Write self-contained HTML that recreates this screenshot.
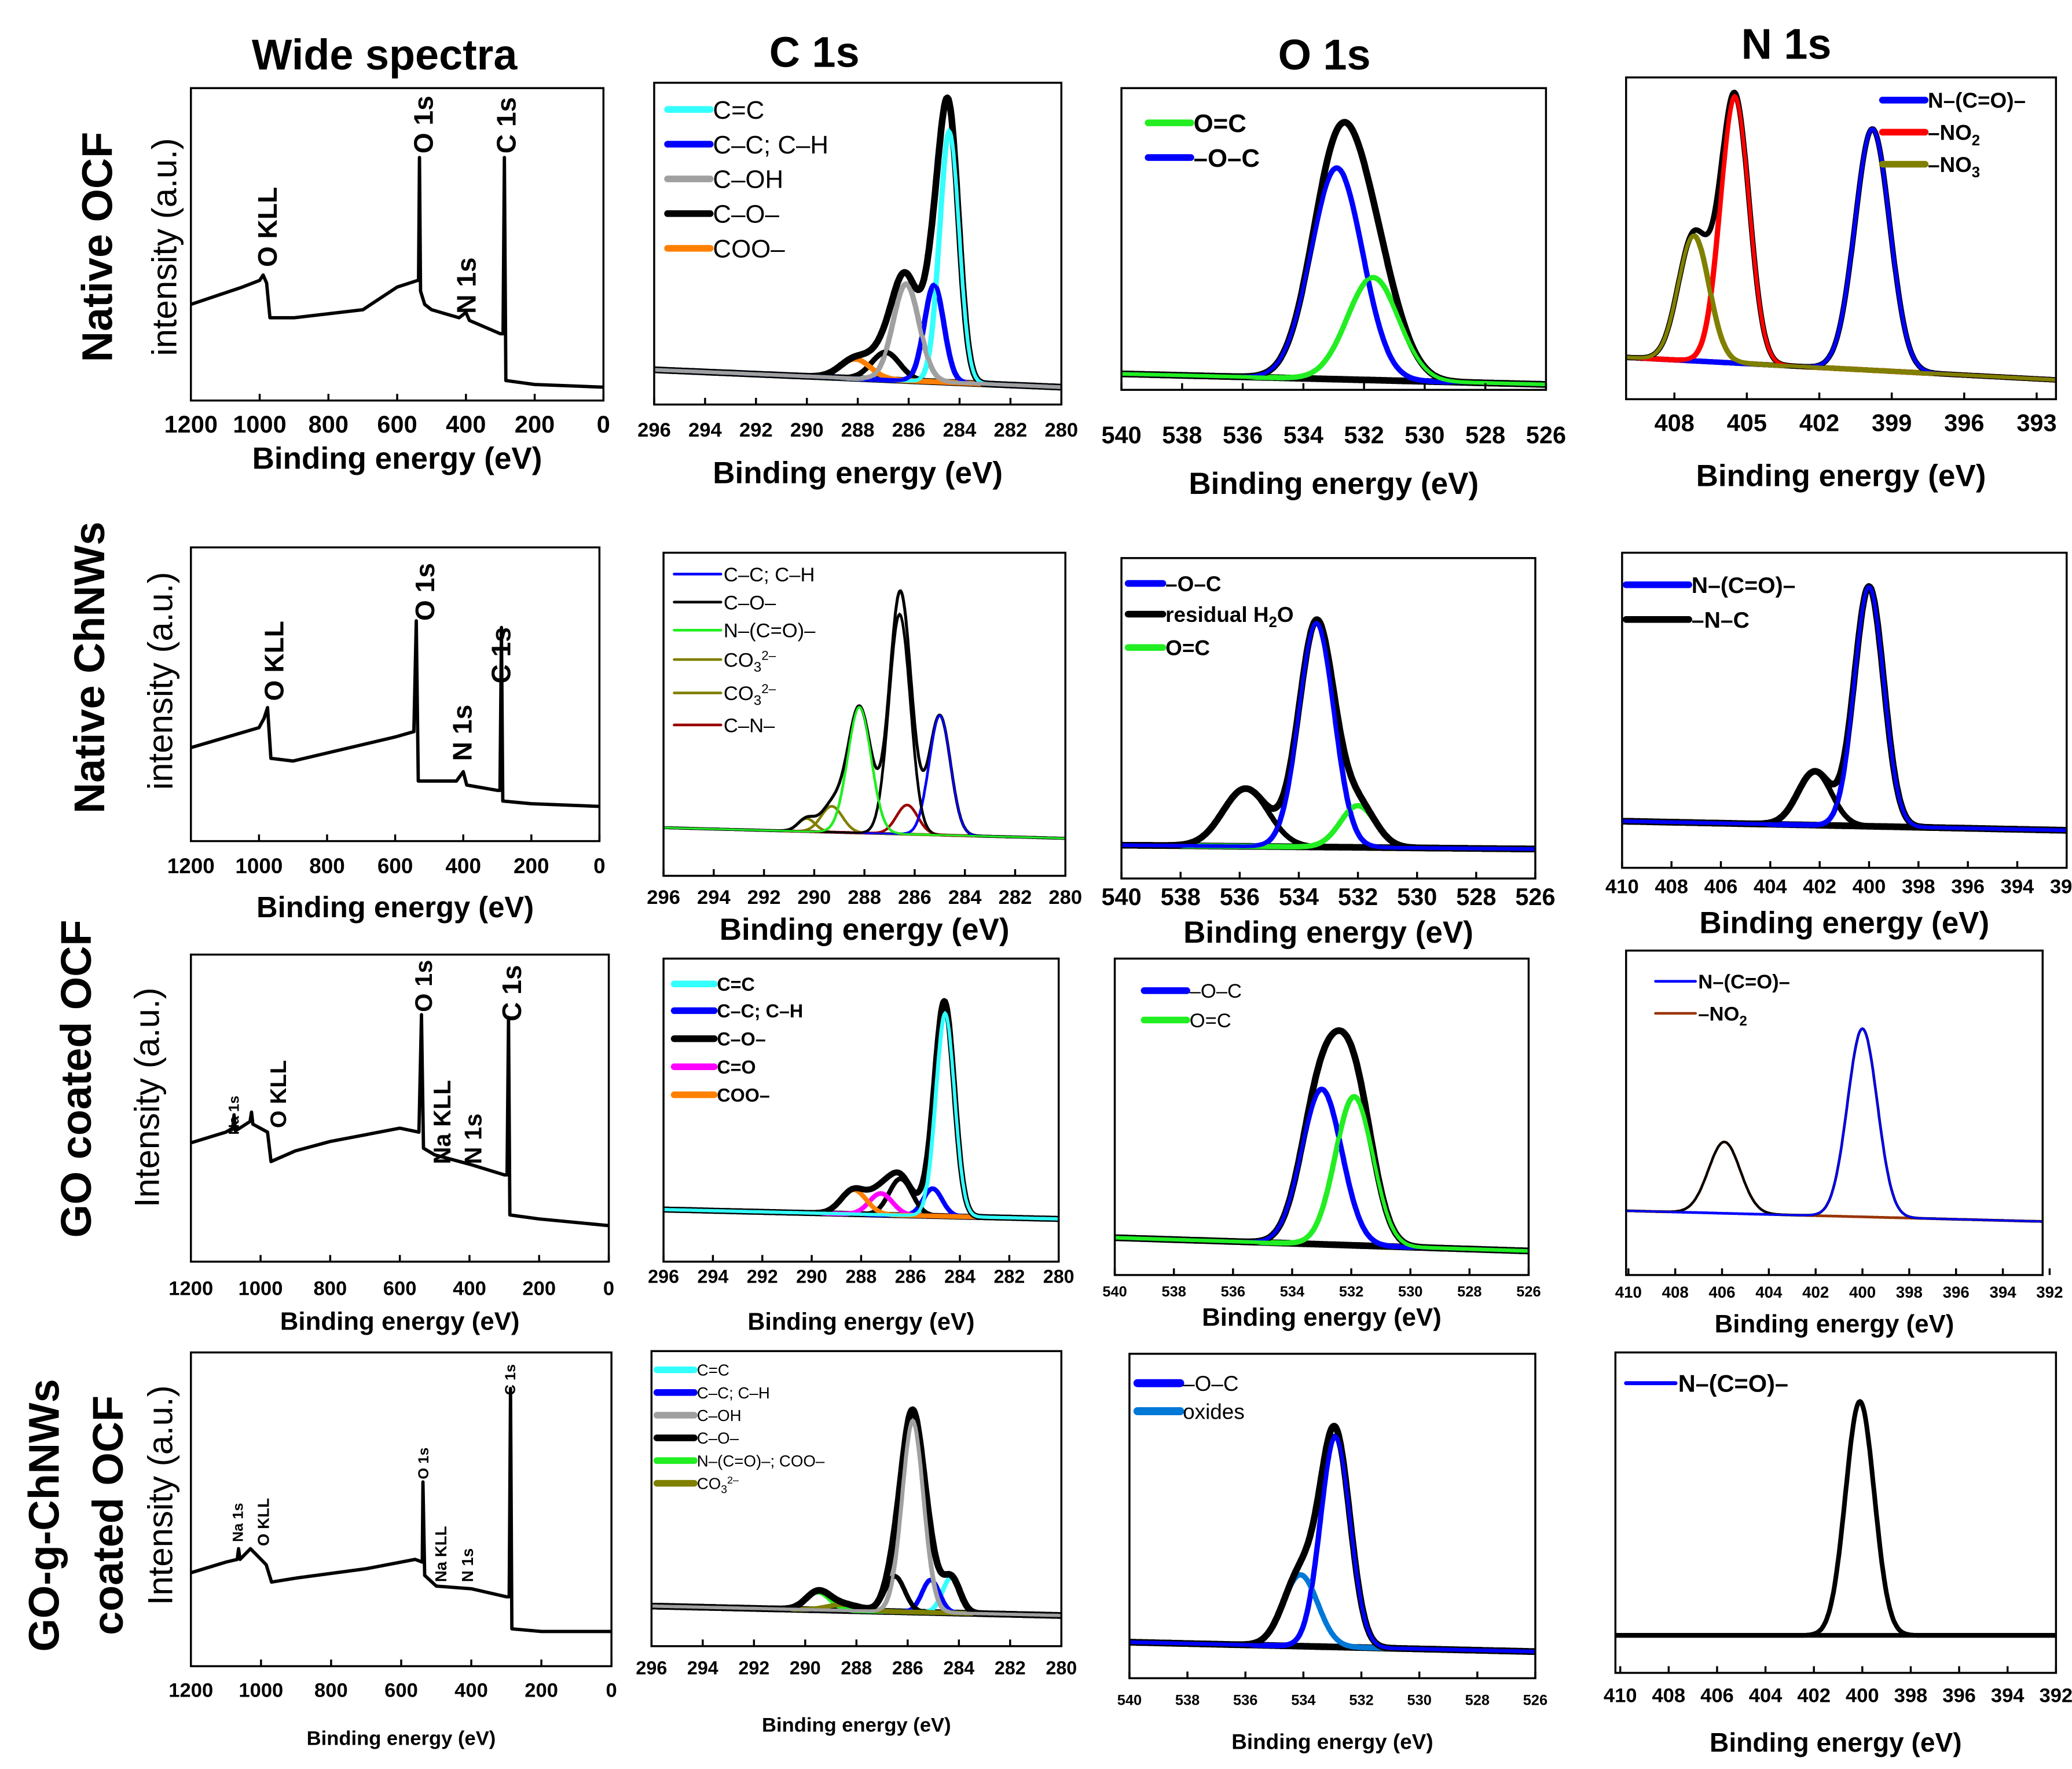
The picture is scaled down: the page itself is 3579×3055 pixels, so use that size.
<!DOCTYPE html>
<html><head><meta charset="utf-8"><style>
html,body{margin:0;padding:0;background:#fff;}
svg{display:block;font-family:"Liberation Sans",sans-serif;}
</style></head><body>
<svg id="fig" width="3579" height="3055" viewBox="0 0 1552 1325" preserveAspectRatio="none" xmlns="http://www.w3.org/2000/svg">
<rect x="0" y="0" width="1552" height="1325" fill="#fff"/>
<g font-weight="bold" fill="#000">
<text x="288" y="52" font-size="32" text-anchor="middle">Wide spectra</text>
<text x="610" y="50" font-size="32" text-anchor="middle">C 1s</text>
<text x="992" y="52" font-size="32" text-anchor="middle">O 1s</text>
<text x="1338" y="44" font-size="32" text-anchor="middle">N 1s</text>
</g>
<g font-weight="bold" fill="#000">
<text transform="translate(84,185) rotate(-90)" font-size="32" text-anchor="middle">Native OCF</text>
<text transform="translate(78,500) rotate(-90)" font-size="32" text-anchor="middle">Native ChNWs</text>
<text transform="translate(68,808) rotate(-90)" font-size="32" text-anchor="middle">GO coated OCF</text>
<text transform="translate(44,1135) rotate(-90)" font-size="32" text-anchor="middle">GO-g-ChNWs</text>
<text transform="translate(92,1135) rotate(-90)" font-size="32" text-anchor="middle">coated OCF</text>
</g>
<g font-size="26" fill="#000">
<text transform="translate(132,185) rotate(-90)" text-anchor="middle">intensity (a.u.)</text>
<text transform="translate(129,510) rotate(-90)" text-anchor="middle">intensity (a.u.)</text>
<text transform="translate(119,822) rotate(-90)" text-anchor="middle">Intensity (a.u.)</text>
<text transform="translate(129,1120) rotate(-90)" text-anchor="middle">Intensity (a.u.)</text>
</g>
<g id="panels"></g>
</svg>
<script>
// ---------- Wide spectra data (BE in eV, intensity in arbitrary counts) ----------
const wide1BE=[1200,1050,1000,990,980,970,900,700,600,540,538,535,532,520,500,420,400,390,300,292,288,284,200,0];
const wide1I=[72,85,90,94,88,62,62,68,85,90,90,182,82,72,68,62,66,60,50,50,182,15,12,10];
const wide2BE=[1200,1000,985,975,965,900,600,545,538,532,420,400,390,300,292,288,284,200,0];
const wide2I=[70,85,92,100,62,60,78,82,165,45,45,52,42,38,38,160,30,28,26];
const wide3BE=[1200,1100,1080,1076,1072,1030,1026,1022,980,970,900,800,600,545,538,532,500,400,300,292,288,284,200,0];
const wide3I=[89,97,100,110,98,105,112,103,97,75,83,90,100,97,185,85,80,73,65,65,183,35,32,27];
const wide4BE=[1200,1100,1068,1064,1060,1030,1000,985,970,900,700,560,540,538,533,500,400,300,292,288,284,200,0];
const wide4I=[70,78,80,88,80,88,80,76,63,66,73,80,78,138,68,60,58,52,52,208,28,26,26];
const wideTicks=[1200,1000,800,600,400,200,0];
const c1sTicks=[296,294,292,290,288,286,284,282,280];
const o1sTicks=[540,538,536,534,532,530,528,526];
const n1sTicks1=[408,405,402,399,396,393];
const n1sTicks=[410,408,406,404,402,400,398,396,394,392];

// ---------- Component fits: centers (eV), amplitudes (fraction of plot height), FWHM (eV) ----------
const r1cC=[284.4,285.0,286.1,286.9,288.1], r1cA=[0.78,0.30,0.30,0.085,0.06], r1cW=[0.9,0.9,1.2,1.3,1.4], r1cBase=[0.108,0.054];
const r1oC=[532.9,531.7], r1oA=[0.70,0.34], r1oW=[2.0,2.0], r1oBase=[0.053,0.018];
const r1nC=[399.8,405.5,407.2], r1nA=[0.75,0.83,0.39], r1nW=[1.7,1.4,1.5], r1nBase=[0.13,0.06];
const r2cC=[285.0,286.6,288.2,289.3,290.3,286.3], r2cA=[0.37,0.68,0.39,0.08,0.04,0.09], r2cW=[1.0,1.0,1.1,1.0,0.8,1.0], r2cBase=[0.149,0.116];
const r2oC=[533.4,535.8,532.0], r2oA=[0.70,0.18,0.13], r2oW=[1.4,1.8,1.4], r2oBase=[0.104,0.092];
const r2nC=[400.0,402.2], r2nA=[0.76,0.17], r2nW=[1.4,1.6], r2nBase=[0.148,0.119];
const r3cC=[284.6,285.1,286.4,287.2,288.3], r3cA=[0.67,0.09,0.12,0.07,0.08], r3cW=[0.9,0.9,1.1,1.1,1.2], r3cBase=[0.172,0.141];
const r3oC=[533.0,531.9], r3oA=[0.49,0.47], r3oW=[1.6,1.5], r3oBase=[0.118,0.076];
const r3nC=[400.0,405.9], r3nA=[0.58,0.22], r3nW=[1.5,1.6], r3nBase=[0.198,0.165];
const r4cC=[284.3,285.1,285.8,286.5,289.5,288.5], r4cA=[0.12,0.11,0.65,0.12,0.06,0.02], r4cW=[0.8,0.8,1.0,0.9,1.1,1.5], r4cBase=[0.136,0.104];
const r4oC=[532.9,534.1], r4oA=[0.65,0.22], r4oW=[1.2,1.4], r4oBase=[0.111,0.082];
const r4nC=[400.1], r4nA=[0.73], r4nW=[1.4], r4nBase=[0.117,0.117];

const NS="http://www.w3.org/2000/svg";
const root=document.getElementById('panels');
function mk(tag,attrs,parent){const e=document.createElementNS(NS,tag);for(const k in attrs)e.setAttribute(k,attrs[k]);(parent||root).appendChild(e);return e;}
function gauss(x,c,a,w){return a*Math.exp(-4*Math.LN2*(x-c)*(x-c)/(w*w));}

const panels=[
 {id:'r1-wide',x0:143,x1:452,y0:66,y1:300,dL:1200,dR:0,yMax:234,ticks:wideTicks,tickY:324,ts:18,xl:'Binding energy (eV)',xlY:351,xs:23,wbe:wide1BE,wi:wide1I,sw:2.5,
  peaks:[['O KLL',200,200,20],['O 1s',317,115,20],['N 1s',349,235,20],['C 1s',379,115,20]]},
 {id:'r1-c1s',x0:490,x1:795,y0:62,y1:303,dL:296,dR:280,yMax:1,ticks:c1sTicks,tickY:327,ts:15,xl:'Binding energy (eV)',xlY:362,xs:23,
  C:r1cC,A:r1cA,Wd:r1cW,base:r1cBase,col:['#33ffff','#0000ff','#a0a0a0','#000','#ff8000'],csw:4,esw:5,
  leg:{x:500,y:[82,108,134,160,186],fs:19,len:32,sw:5,lab:['C=C','C–C; C–H','C–OH','C–O–','COO–']}},
 {id:'r1-o1s',x0:840,x1:1158,y0:66,y1:292,dL:540,dR:526,yMax:1,ticks:o1sTicks,tickY:332,ts:18,xl:'Binding energy (eV)',xlY:370,xs:23,
  C:r1oC,A:r1oA,Wd:r1oW,base:r1oBase,col:['#0000ff','#22ee22'],csw:4,esw:5,
  leg:{x:860,y:[118,92],fs:19,len:32,sw:5,bold:1,lab:['–O–C','O=C']}},
 {id:'r1-n1s',x0:1218,x1:1540,y0:58,y1:299,dL:410,dR:392.2,yMax:1,ticks:n1sTicks1,tickY:323,ts:18,xl:'Binding energy (eV)',xlY:364,xs:23,
  C:r1nC,A:r1nA,Wd:r1nW,base:r1nBase,col:['#0000ff','#ff0000','#808000'],csw:4,esw:4,
  leg:{x:1410,y:[75,99,123],fs:16,len:32,sw:5,bold:1,lab:['N–(C=O)–','–NO|2','–NO|3']}},
 {id:'r2-wide',x0:143,x1:449,y0:410,y1:630,dL:1200,dR:0,yMax:220,ticks:wideTicks,tickY:654,ts:16,xl:'Binding energy (eV)',xlY:687,xs:22,wbe:wide2BE,wi:wide2I,sw:2.5,
  peaks:[['O KLL',205,525,20],['O 1s',318,465,20],['N 1s',346,570,20],['C 1s',375,512,20]]},
 {id:'r2-c1s',x0:497,x1:798,y0:414,y1:656,dL:296,dR:280,yMax:1,ticks:c1sTicks,tickY:677,ts:15,xl:'Binding energy (eV)',xlY:704,xs:23,
  C:r2cC,A:r2cA,Wd:r2cW,base:r2cBase,col:['#0000ff','#000','#22ee22','#808000','#808000','#990000'],csw:2,esw:2.2,
  leg:{x:505,y:[430,451,472,494,519,543],fs:15,len:35,sw:2,lab:['C–C; C–H','C–O–','N–(C=O)–','CO|3|2–','CO|3|2–','C–N–']}},
 {id:'r2-o1s',x0:840,x1:1150,y0:418,y1:658,dL:540,dR:526,yMax:1,ticks:o1sTicks,tickY:678,ts:18,xl:'Binding energy (eV)',xlY:706,xs:23,
  C:r2oC,A:r2oA,Wd:r2oW,base:r2oBase,col:['#0000ff','#000','#22ee22'],csw:4,esw:5,
  leg:{x:845,y:[437,460,485],fs:16,len:26,sw:5,bold:1,lab:['–O–C','residual H|2|O','O=C']}},
 {id:'r2-n1s',x0:1215,x1:1548,y0:414,y1:650,dL:410,dR:392,yMax:1,ticks:n1sTicks,tickY:669,ts:15,xl:'Binding energy (eV)',xlY:699,xs:23,
  C:r2nC,A:r2nA,Wd:r2nW,base:r2nBase,col:['#0000ff','#000'],csw:4,esw:5,
  leg:{x:1218,y:[438,464],fs:17,len:47,sw:5,bold:1,lab:['N–(C=O)–','–N–C']}},
 {id:'r3-wide',x0:143,x1:456,y0:715,y1:945,dL:1200,dR:0,yMax:230,ticks:wideTicks,tickY:970,ts:15,xl:'Binding energy (eV)',xlY:996,xs:19,wbe:wide3BE,wi:wide3I,sw:2.5,
  peaks:[['Na 1s',175,850,11],['O KLL',208,845,17],['O 1s',317,758,18],['Na KLL',331,872,18],['N 1s',354,872,18],['C 1s',383,765,20]]},
 {id:'r3-c1s',x0:497,x1:793,y0:718,y1:945,dL:296,dR:280,yMax:1,ticks:c1sTicks,tickY:961,ts:14,xl:'Binding energy (eV)',xlY:996,xs:18,
  C:r3cC,A:r3cA,Wd:r3cW,base:r3cBase,col:['#33ffff','#0000ff','#000','#ff00ff','#ff8000'],csw:3.5,esw:4.5,
  leg:{x:505,y:[737,757,778,799,820],fs:14,len:30,sw:5,bold:1,lab:['C=C','C–C; C–H','C–O–','C=O','COO–']}},
 {id:'r3-o1s',x0:835,x1:1145,y0:718,y1:955,dL:540,dR:526,yMax:1,ticks:o1sTicks,tickY:971,ts:11,xl:'Binding energy (eV)',xlY:993,xs:19,
  C:r3oC,A:r3oA,Wd:r3oW,base:r3oBase,col:['#0000ff','#22ee22'],csw:4,esw:5,
  leg:{x:857,y:[742,764],fs:15,len:32,sw:5,lab:['–O–C','O=C']}},
 {id:'r3-n1s',x0:1218,x1:1530,y0:712,y1:955,dL:410.1,dR:392.3,yMax:1,ticks:n1sTicks,tickY:972,ts:12,xl:'Binding energy (eV)',xlY:998,xs:19,
  C:r3nC,A:r3nA,Wd:r3nW,base:r3nBase,col:['#0000ff','#993300'],csw:2,esw:1.8,
  leg:{x:1240,y:[735,759],fs:15,len:30,sw:2,bold:1,lab:['N–(C=O)–','–NO|2']}},
 {id:'r4-wide',x0:143,x1:458,y0:1013,y1:1248,dL:1200,dR:0,yMax:235,ticks:wideTicks,tickY:1271,ts:15,xl:'Binding energy (eV)',xlY:1307,xs:15,wbe:wide4BE,wi:wide4I,sw:2.5,
  peaks:[['Na 1s',178,1155,11],['O KLL',197,1158,12],['O 1s',317,1108,11],['Na KLL',330,1185,12],['N 1s',350,1185,12],['C 1s',382,1045,11]]},
 {id:'r4-c1s',x0:488,x1:795,y0:1012,y1:1233,dL:296,dR:280,yMax:1,ticks:c1sTicks,tickY:1254,ts:14,xl:'Binding energy (eV)',xlY:1297,xs:15,
  C:r4cC,A:r4cA,Wd:r4cW,base:r4cBase,col:['#33ffff','#0000ff','#a0a0a0','#000','#22ee22','#808000'],csw:3.5,esw:5,
  leg:{x:492,y:[1026,1043,1060,1077,1094,1111],fs:12,len:28,sw:5,lab:['C=C','C–C; C–H','C–OH','C–O–','N–(C=O)–; COO–','CO|3|2–']}},
 {id:'r4-o1s',x0:846,x1:1150,y0:1014,y1:1257,dL:540,dR:526,yMax:1,ticks:o1sTicks,tickY:1277,ts:11,xl:'Binding energy (eV)',xlY:1310,xs:16,
  C:r4oC,A:r4oA,Wd:r4oW,base:r4oBase,col:['#0000ff','#0078d7'],csw:4,esw:5,
  leg:{x:852,y:[1036,1057],fs:16,len:32,sw:6,lab:['–O–C','oxides']}},
 {id:'r4-n1s',x0:1210,x1:1540,y0:1013,y1:1253,dL:410.2,dR:392,yMax:1,ticks:n1sTicks,tickY:1275,ts:15,xl:'Binding energy (eV)',xlY:1312,xs:20,
  C:r4nC,A:r4nA,Wd:r4nW,base:r4nBase,col:[],csw:4,esw:3.5,envOnly:1,
  leg:{x:1218,y:[1036],fs:18,len:37,sw:3,bold:1,col:['#0000ff'],lab:['N–(C=O)–']}}
];

function addLabel(parent,x,y,label,fs,bold){
  const t=mk('text',{x:x,y:y,'font-size':fs,'font-weight':bold?'bold':'normal'},parent);
  const parts=label.split('|');
  t.appendChild(document.createTextNode(parts[0]));
  if(parts.length>1){
    const s=mk('tspan',{'font-size':fs*0.7,dy:fs*0.25},t);s.textContent=parts[1];
    if(parts.length>2){
      if(parts[1]==='2'&&parts[2]==='O'){const r=mk('tspan',{dy:-fs*0.25},t);r.textContent='O';}
      else{const s2=mk('tspan',{'font-size':fs*0.65,dy:-fs*0.6},t);s2.textContent=parts[2];}
    }
  }
  return t;
}

panels.forEach(p=>{
  const g=mk('g',{});
  
  
  const sx=v=>p.x0+(p.dL-v)/(p.dL-p.dR)*(p.x1-p.x0);
  const sy=v=>p.y1-v/p.yMax*(p.y1-p.y0);
  const cid='clip-'+p.id;
  const cp=mk('clipPath',{id:cid},g);
  mk('rect',{x:p.x0,y:p.y0,width:p.x1-p.x0,height:p.y1-p.y0},cp);
  const plot=mk('g',{'clip-path':'url(#'+cid+')'},g);
  
  
  if(p.wbe){
    const pts=p.wbe.map((b,i)=>sx(b).toFixed(1)+','+sy(p.wi[i]).toFixed(1)).join(' ');
    const pl=mk('polyline',{points:pts,fill:'none',stroke:'#000','stroke-width':p.sw,'stroke-linejoin':'round'},plot);
    
    
    p.peaks.forEach(pk=>{
      const t=mk('text',{transform:'translate('+(pk[1]+pk[3]*0.36)+','+pk[2]+') rotate(-90)','font-size':pk[3],'font-weight':'bold'},g);
      t.textContent=pk[0];
      
      
    });
  } else {
    const base=x=>p.base[0]+(p.base[1]-p.base[0])*(p.dL-x)/(p.dL-p.dR);
    const step=(p.dL-p.dR)/400;
    const curve=f=>{let d='';for(let i=0;i<=400;i++){const x=p.dL-i*step;d+=(i?'L':'M')+sx(x).toFixed(1)+','+sy(f(x)).toFixed(1);}return d;};
    const bl=mk('path',{d:curve(base),fill:'none',stroke:'#000','stroke-width':p.esw},plot);
    
    
    if(!p.envOnly){
      p.C.forEach((c,i)=>{
        const cp2=mk('path',{d:curve(x=>base(x)+gauss(x,c,p.A[i],p.Wd[i])),fill:'none',stroke:p.col[i],'stroke-width':p.csw},plot);
        
        
      });
    }
    const env=mk('path',{d:curve(x=>base(x)+p.C.reduce((s,c,i)=>s+gauss(x,c,p.A[i],p.Wd[i]),0)),fill:'none',stroke:'#000','stroke-width':p.esw,'stroke-linejoin':'round'},plot);
    
    
    if(!p.envOnly){
      // redraw components on top of envelope where they dominate (as in figure)
      p.C.forEach((c,i)=>{
        if(p.A[i]<0.3)return;
        const t2=mk('path',{d:curve(x=>base(x)+gauss(x,c,p.A[i],p.Wd[i])),fill:'none',stroke:p.col[i],'stroke-width':p.csw*0.7},plot);
        
        
      });
    }
  }
  const box=mk('rect',{x:p.x0,y:p.y0,width:p.x1-p.x0,height:p.y1-p.y0,fill:'none',stroke:'#000','stroke-width':1.5},g);
  
  
  p.ticks.forEach(t=>{
    const x=sx(t);
    const tk=mk('line',{x1:x,x2:x,y1:p.y1,y2:p.y1-5,stroke:'#000','stroke-width':1.5},g);
    
    
    const tl=mk('text',{x:x,y:p.tickY,'font-size':p.ts,'text-anchor':'middle','font-weight':'bold'},g);
    tl.textContent=String(t);
    
    
  });
  const xl=mk('text',{x:(p.x0+p.x1)/2,y:p.xlY,'font-size':p.xs,'text-anchor':'middle','font-weight':'bold'},g);
  xl.textContent=p.xl;
  
  
  if(p.leg){
    const L=p.leg;
    const lg=mk('g',{},g);
    
    
    L.lab.forEach((lab,i)=>{
      const y=L.y[i];
      const col=(L.col&&L.col[i])||p.col[i];
      const ln=mk('line',{x1:L.x,x2:L.x+L.len,y1:y,y2:y,stroke:col,'stroke-width':L.sw,'stroke-linecap':'round'},lg);
      
      
      const tx=addLabel(lg,L.x+L.len+2,y+L.fs*0.36,lab,L.fs,L.bold);
      
      
    });
  }
});
</script>
</body></html>
